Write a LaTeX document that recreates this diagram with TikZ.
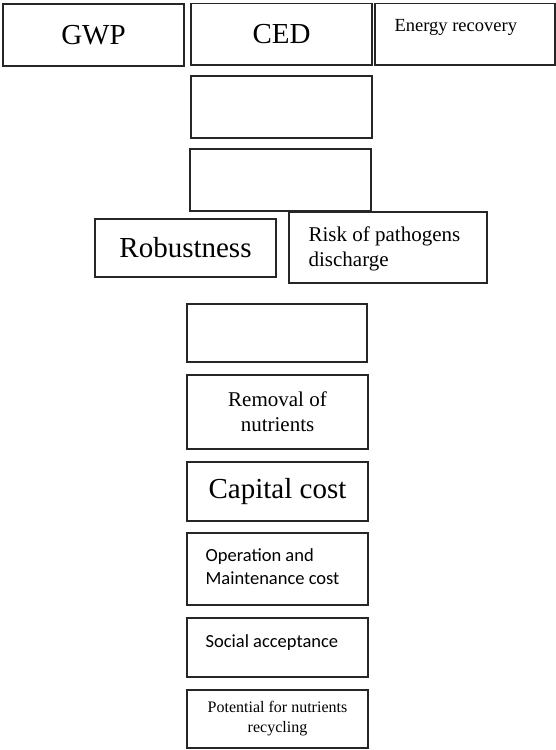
\documentclass[tikz,border=0pt]{standalone}
\usepackage{fontspec}
\setmainfont{Liberation Serif}
\newfontfamily\carlito{Carlito}
\tikzset{
  critBox/.style={draw=black!85, line width=1.2pt, minimum width=181pt, minimum height=60pt, inner sep=0pt, align=center},
  hugeText/.style={font=\fontsize{29}{34}\selectfont},
  midText/.style={font=\fontsize{21}{25}\selectfont},
  sansText/.style={font=\carlito\fontsize{18.5}{23}\selectfont, align=left, inner sep=0pt},
  smallText/.style={font=\fontsize{16}{20}\selectfont}
}

\begin{document}
\begin{tikzpicture}[x=1pt, y=-1pt]
  \useasboundingbox (0,0) rectangle (556,750);
  % top row
  \node[critBox, hugeText, minimum height=62pt] (gwp) at (93.5,35) {GWP};
  \node[critBox, hugeText, minimum height=61.5pt] (ced) at (281.5,34.3) {CED};
  \node[critBox, minimum width=180pt, minimum height=61.5pt] (energy) at (465,34.3) {};
  \node[font=\fontsize{18.5}{22}\selectfont, anchor=base west, inner sep=0pt] (energyText)
    at ([xshift=20pt, yshift=-28.5pt]energy.north west) {Energy recovery};
  % empty boxes below CED
  \node[critBox, minimum height=62pt] (blankA) at (281.5,107) {};
  \node[critBox, minimum height=62pt] (blankB) at (280.5,180) {};
  % middle row
  \node[critBox, hugeText, minimum height=58pt] (robust) at (185.5,248) {Robustness};
  \node[critBox, minimum width=198pt, minimum height=71pt] (risk) at (388,247.5) {};
  \node[midText, anchor=west, align=left, inner sep=0pt] (riskText)
    at ([xshift=20pt, yshift=-1pt]risk.west) {Risk of pathogens\\discharge};
  % central column
  \node[critBox, minimum width=180pt, minimum height=58pt] (blankC) at (277,333) {};
  \node[critBox, midText, minimum height=74pt] (removal) at (277.5,412) {Removal of\\nutrients};
  \node[critBox, hugeText, minimum height=59pt] (capital) at (277.5,491.5) {Capital cost};
  \node[critBox, minimum height=72pt] (operation) at (277.5,569) {};
  \node[sansText, anchor=west] (operationText)
    at ([xshift=19pt, yshift=2pt]operation.west) {Operation and\\Maintenance cost};
  \node[critBox, minimum height=59pt] (social) at (277.5,647.5) {};
  \node[sansText, anchor=base west] (socialText)
    at ([xshift=19pt]social.west) {Social acceptance};
  \node[critBox, smallText, minimum height=58pt] (potential) at (277.5,719) {Potential for nutrients\\recycling};
\end{tikzpicture}
\end{document}
